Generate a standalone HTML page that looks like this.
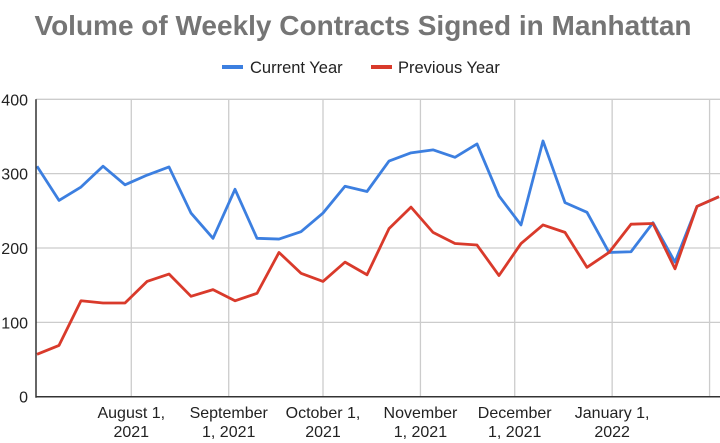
<!DOCTYPE html>
<html><head><meta charset="utf-8"><style>
body{margin:0;background:#fff;}
svg{display:block;font-family:"Liberation Sans",sans-serif;}
</style></head><body>
<svg id="chart" width="720" height="443">
<text x="363" y="35" text-anchor="middle" font-size="28" font-weight="bold" fill="#757575">Volume of Weekly Contracts Signed in Manhattan</text>
<g>
<g><line x1="222" y1="67" x2="243" y2="67" stroke="#3c7fe0" stroke-width="4"/><text x="250" y="73" font-size="16.5" fill="#222">Current Year</text></g>
<g><line x1="371" y1="67" x2="392" y2="67" stroke="#d93a2b" stroke-width="4"/><text x="398" y="73" font-size="16.5" fill="#222">Previous Year</text></g>
</g>
<g id="grid"></g><g id="series"></g><g id="axes"></g>
</svg>
<script>
const currentYear=[310,264,282,310,285,298,309,247,213,279,213,212,222,247,283,276,317,328,332,322,340,270,231,344,261,248,194,195,234,181,256,269];
const previousYear=[57,69,129,126,126,155,165,135,144,129,139,194,166,155,181,164,226,255,221,206,204,163,206,231,221,174,194,232,233,172,256,269];
const yTicks=[0,100,200,300,400];
const xTickDates=["2021-08-01","2021-09-01","2021-10-01","2021-11-01","2021-12-01","2022-01-01","2022-02-01"];
const xTickLine1=["August 1,","September","October 1,","November","December","January 1,",""];
const xTickLine2=["2021","1, 2021","2021","1, 2021","1, 2021","2022",""];
const startDate="2021-07-02";

const NS="http://www.w3.org/2000/svg";
const X0=37,STEP=22,Y0=396.7,YSCALE=0.7435,LEFT=36,RIGHT=720;
const xIdx=i=>X0+i*STEP;
const dayMs=86400000;
const xDate=d=>X0+((new Date(d)-new Date(startDate))/dayMs)/7*STEP;
const yv=v=>Y0-v*YSCALE;
function mk(tag,attrs,parent){const e=document.createElementNS(NS,tag);for(const k in attrs)e.setAttribute(k,attrs[k]);parent.appendChild(e);return e;}
const grid=document.getElementById('grid'),series=document.getElementById('series'),axes=document.getElementById('axes');
yTicks.forEach(t=>{
  const l=mk('line',{x1:LEFT,x2:RIGHT,y1:yv(t),y2:yv(t),stroke:'#cccccc','stroke-width':1.3},grid);
  
  
  const tx=mk('text',{x:28,y:yv(t)+6,'text-anchor':'end','font-size':16,fill:'#222'},axes);
  tx.textContent=t;
  
  
});
xTickDates.forEach((d,i)=>{
  const x=xDate(d);
  const l=mk('line',{x1:x,x2:x,y1:yv(400),y2:yv(0),stroke:'#cccccc','stroke-width':1.3},grid);
  
  
  const t1=mk('text',{x:x,y:418,'text-anchor':'middle','font-size':16,fill:'#222'},axes);
  t1.textContent=xTickLine1[i];
  
  
  const t2=mk('text',{x:x,y:437,'text-anchor':'middle','font-size':16,fill:'#222'},axes);
  t2.textContent=xTickLine2[i];
  
  
});
function line(data,color,name){
  const p=mk('polyline',{points:data.map((v,i)=>xIdx(i)+','+yv(v)).join(' '),fill:'none',stroke:color,'stroke-width':2.8,'stroke-linejoin':'round'},series);
  
  
}
line(currentYear,'#3c7fe0','current-year-line');
line(previousYear,'#d93a2b','previous-year-line');
const ya=mk('line',{x1:LEFT,x2:LEFT,y1:yv(400),y2:yv(0)+1,stroke:'#333','stroke-width':1.5},axes);


const xa=mk('line',{x1:LEFT,x2:RIGHT,y1:yv(0),y2:yv(0),stroke:'#333','stroke-width':1.5},axes);


</script>
</body></html>
